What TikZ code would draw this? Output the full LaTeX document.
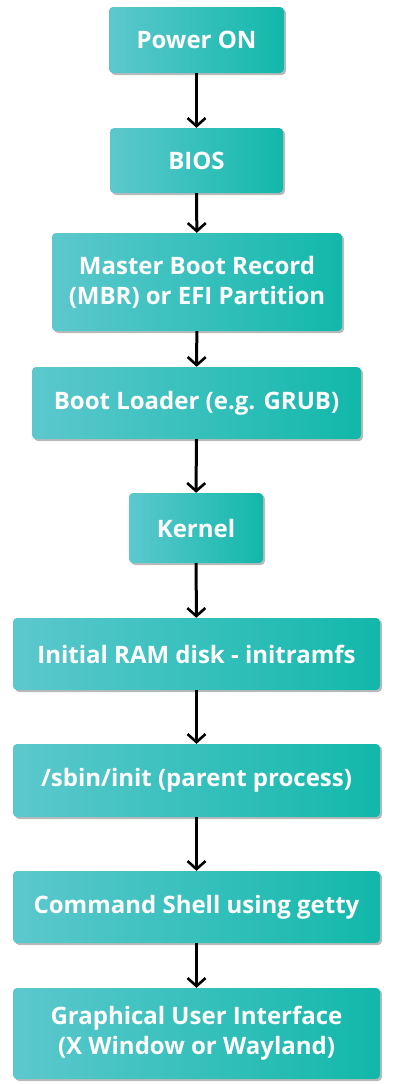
\documentclass[tikz,border=0pt]{standalone}
\usepackage{fontspec}
\setmainfont{Open Sans}
\usepackage{xcolor}
\usetikzlibrary{
    arrows.meta,
    shadows,
    positioning
}
\definecolor{tealA}{HTML}{5CC8CE}
\definecolor{tealB}{HTML}{12B8AA}
\tikzset{
    stepbox/.style={rounded corners=4pt, left color=tealA, right color=tealB,
        draw=none, text=white, align=center, inner sep=0pt,
        font=\fontsize{24}{30}\selectfont\bfseries,
        drop shadow={shadow xshift=2pt, shadow yshift=-2pt, opacity=0.45, fill=black!60}},
    flow/.style={line width=3pt, -{Straight Barb[length=8pt, width=18pt, line width=2.6pt]}}
}

\begin{document}
\begin{tikzpicture}[x=1pt, y=-1pt]
                        \useasboundingbox (0, 0) rectangle (400, 1084);
                        \node[stepbox, minimum width=175, minimum height=66] (power) at (196.5, 40) {Power ON};
                        \node[stepbox, minimum width=173, minimum height=65] (bios) at (196.5, 160.5) {BIOS};
                        \node[stepbox, minimum width=290, minimum height=98] (mbr) at (197, 282) {Master Boot Record\\(MBR) or EFI Partition};
                        \node[stepbox, minimum width=329, minimum height=72] (loader) at (196.5, 403) {Boot Loader (e.g. GRUB)};
                        \node[stepbox, minimum width=134, minimum height=70] (kernel) at (196, 528) {Kernel};
                        \node[stepbox, minimum width=367, minimum height=72] (initrd) at (196.5, 654) {Initial RAM disk - initramfs};
                        \node[stepbox, minimum width=367, minimum height=73] (init) at (196.5, 780.5) {/sbin/init (parent process)};
                        \node[stepbox, minimum width=367, minimum height=72] (shell) at (196.5, 907) {Command Shell using getty};
                        \node[stepbox, minimum width=367, minimum height=91] (gui) at (196.5, 1033.5) {Graphical User Interface\\(X Window or Wayland)};
                        \draw[flow] (power) -- (bios);
                        \draw[flow] (bios) -- (mbr);
                        \draw[flow] (mbr) -- (loader);
                        \draw[flow] (loader) -- (kernel);
                        \draw[flow] (kernel) -- (initrd);
                        \draw[flow] (initrd) -- (init);
                        \draw[flow] (init) -- (shell);
                        \draw[flow] (shell) -- (gui);
                    \end{tikzpicture}
\end{document}
